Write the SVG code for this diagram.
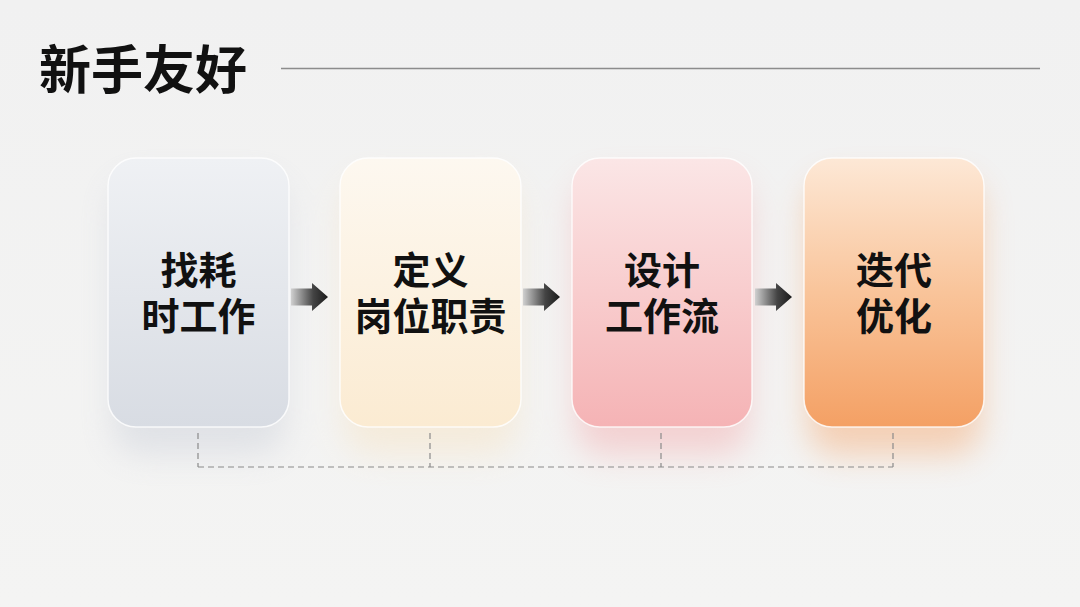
<svg xmlns="http://www.w3.org/2000/svg" width="1080" height="607" viewBox="0 0 1080 607">
<defs>
<style>
.t{font-family:"Noto Sans CJK SC","Noto Sans CJK JP",sans-serif;font-weight:700;fill:#111;}
.lbl{font-size:38px;text-anchor:middle;}
.card{stroke:#ffffff;stroke-opacity:0.8;stroke-width:1.5;}
.dash{fill:none;stroke:#8a8a8a;stroke-width:1.2;stroke-dasharray:6 4;}
</style>
<linearGradient id="g1" x1="0" y1="0" x2="0" y2="1"><stop offset="0" stop-color="#eff1f4"/><stop offset="1" stop-color="#d8dce3"/></linearGradient>
<linearGradient id="g2" x1="0" y1="0" x2="0" y2="1"><stop offset="0" stop-color="#fdf8f0"/><stop offset="1" stop-color="#fbebd2"/></linearGradient>
<linearGradient id="g3" x1="0" y1="0" x2="0" y2="1"><stop offset="0" stop-color="#fbe6e6"/><stop offset="1" stop-color="#f5b3b5"/></linearGradient>
<linearGradient id="g4" x1="0" y1="0" x2="0" y2="1"><stop offset="0" stop-color="#fde8d6"/><stop offset="0.5" stop-color="#f9c49a"/><stop offset="1" stop-color="#f4a064"/></linearGradient>
<linearGradient id="ga" x1="0" y1="0" x2="1" y2="0"><stop offset="0" stop-color="#d0d0d0"/><stop offset="0.6" stop-color="#444"/><stop offset="1" stop-color="#1a1a1a"/></linearGradient>
<linearGradient id="bg" x1="0" y1="0" x2="0" y2="1"><stop offset="0" stop-color="#f1f1f1"/><stop offset="1" stop-color="#f4f4f3"/></linearGradient>
<filter id="sh" x="-30%" y="-30%" width="160%" height="160%"><feGaussianBlur stdDeviation="16"/></filter>
<g id="arrow"><path d="M0,-8.5 H21 V-14 L37,0 L21,14 V8.5 H0 Z" fill="url(#ga)"/></g>
</defs>
<rect width="1080" height="607" fill="url(#bg)"/>
<g opacity="0.45" filter="url(#sh)">
<rect x="112" y="180" width="173" height="275" rx="28" fill="#c9ced8"/>
<rect x="344" y="180" width="173" height="275" rx="28" fill="#f7e2c0"/>
<rect x="576" y="180" width="173" height="275" rx="28" fill="#f3a9ab"/>
<rect x="808" y="180" width="173" height="275" rx="28" fill="#f5a56c"/>
</g>
<g id="title">
<text class="t" x="39" y="89" font-size="52">新手友好</text>
<line x1="281" y1="68.5" x2="1040" y2="68.5" stroke="#8c8c8c" stroke-width="1.5"/>
</g>
<g id="node1">
<rect class="card" x="108" y="158" width="181" height="269" rx="28" fill="url(#g1)"/>
<text class="t lbl" x="198.5" y="284">找耗</text>
<text class="t lbl" x="198.5" y="330">时工作</text>
</g>
<g id="node2">
<rect class="card" x="340" y="158" width="181" height="269" rx="28" fill="url(#g2)"/>
<text class="t lbl" x="430.5" y="284">定义</text>
<text class="t lbl" x="430.5" y="330">岗位职责</text>
</g>
<g id="node3">
<rect class="card" x="572" y="158" width="180" height="269" rx="28" fill="url(#g3)"/>
<text class="t lbl" x="662" y="284">设计</text>
<text class="t lbl" x="662" y="330">工作流</text>
</g>
<g id="node4">
<rect class="card" x="804" y="158" width="180" height="269" rx="28" fill="url(#g4)"/>
<text class="t lbl" x="894" y="284">迭代</text>
<text class="t lbl" x="894" y="330">优化</text>
</g>
<g id="connectors">
<use href="#arrow" x="291" y="297"/>
<use href="#arrow" x="523" y="297"/>
<use href="#arrow" x="755" y="297"/>
<path class="dash" d="M198,433 V467 M430,433 V467 M661,433 V467 M893,433 V467 M198,467 H893"/>
</g>
</svg>
